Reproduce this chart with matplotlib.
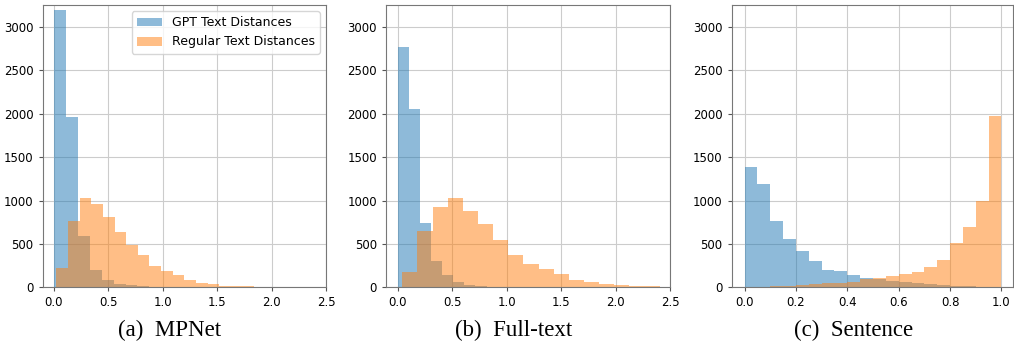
import numpy as np
import matplotlib.pyplot as plt

# bin counts (20 bins each unless noted)
gpt_mpnet = [3200, 1960, 591, 194, 80, 42, 23, 12, 6, 4, 3, 2, 2, 1, 1, 1, 0, 7, 0, 7]
reg_mpnet = [225, 766, 1026, 957, 816, 641, 488, 377, 244, 187, 137, 80, 54, 34, 15, 10, 10, 8, 8, 3]

gpt_full = [2769, 2058, 745, 301, 141, 61, 26, 15, 8, 5, 3, 2, 2, 3, 1, 1, 0, 0, 0, 1]
reg_full = [175, 644, 922, 1030, 876, 732, 541, 370, 270, 206, 149, 84, 57, 38, 23, 15, 10]

gpt_sent = [1391, 1190, 766, 556, 415, 301, 198, 190, 137, 106,
            92, 73, 62, 54, 38, 27, 15, 12, 8, 4]
reg_sent = [5, 8, 12, 18, 22, 40, 44, 50, 60, 90,
            104, 129, 148, 179, 236, 312, 510, 690, 1000, 1970]

# (start, bin width) of each histogram
bins_info = {
    'mpnet': ((0.0, 0.11), (0.024, 0.107)),
    'full': ((0.0, 0.102), (0.043, 0.139)),
    'sent': ((0.0, 0.05), (0.0, 0.05)),
}
captions = ['(a)  MPNet', '(b)  Full-text', '(c)  Sentence']
xlims = [(-0.1, 2.5), (-0.107, 2.49), (-0.05, 1.045)]
xticks = [[0.0, 0.5, 1.0, 1.5, 2.0, 2.5], [0.0, 0.5, 1.0, 1.5, 2.0, 2.5],
          [0.0, 0.2, 0.4, 0.6, 0.8, 1.0]]


def edges(start, width, n):
    return start + width * np.arange(n + 1)


fig = plt.figure(figsize=(10.14, 3.41), dpi=100)
lefts = [42.7, 386, 731.7]
rights = [326, 670, 1013]
cap_x = [170, 514, 854]
data = [(gpt_mpnet, reg_mpnet, 'mpnet'), (gpt_full, reg_full, 'full'), (gpt_sent, reg_sent, 'sent')]

for i, (gpt, reg, key) in enumerate(data):
    l = lefts[i] / 1014
    w = (rights[i] - lefts[i]) / 1014
    ax = fig.add_axes([l, 1 - 287.3 / 341, w, (287.3 - 5) / 341])
    (gs, gw), (rs, rw) = bins_info[key]
    ge = edges(gs, gw, len(gpt))
    re_ = edges(rs, rw, len(reg))
    ax.hist(ge[:-1], bins=ge, weights=gpt, alpha=0.5, color='#1f77b4',
            label='GPT Text Distances')
    ax.hist(re_[:-1], bins=re_, weights=reg, alpha=0.5, color='#ff7f0e',
            label='Regular Text Distances')
    ax.set_xlim(*xlims[i])
    ax.set_ylim(0, 3255)
    ax.set_xticks(xticks[i])
    ax.set_yticks([0, 500, 1000, 1500, 2000, 2500, 3000])
    ax.grid(True, color='#cccccc', linewidth=0.8)
    ax.set_axisbelow(True)
    ax.tick_params(labelsize=8.5, color='#555555', length=3)
    for s in ax.spines.values():
        s.set_color('#777777')
    if i == 0:
        ax.legend(loc='upper right', fontsize=9, frameon=True,
                  borderaxespad=0.5, handlelength=2.0)
    fig.text(cap_x[i] / 1014, 1 - 330 / 341, captions[i], ha='center', va='center',
             fontsize=16.5, family='Liberation Serif')

fig.savefig('out.png', dpi=100)
